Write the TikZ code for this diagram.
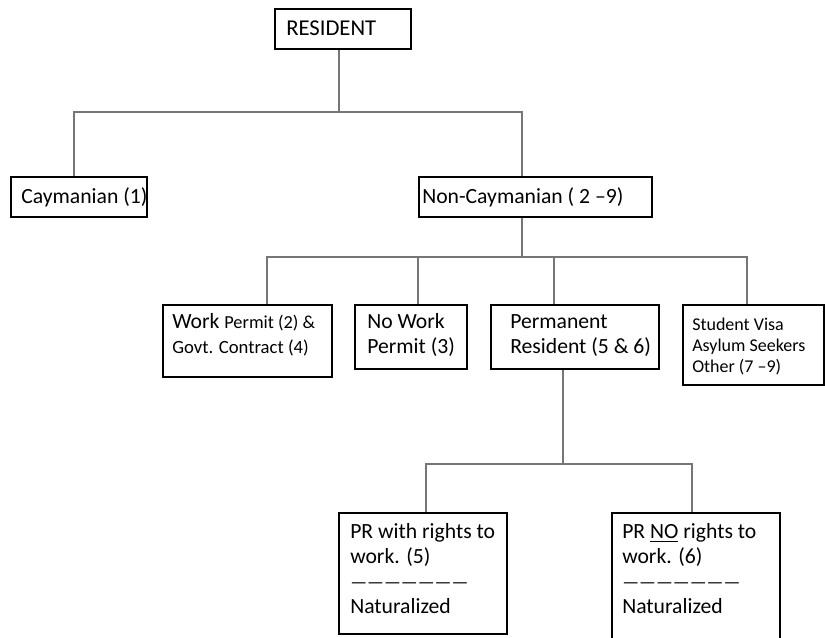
\documentclass[tikz,border=0pt]{standalone}
\usepackage{fontspec}
\setmainfont{Carlito}
\usepackage{xcolor}
\usetikzlibrary{calc}
\definecolor{lngray}{RGB}{118,118,118}
\tikzset{
  box/.style={rectangle, draw=black, line width=1pt, inner sep=0pt},
  conn/.style={draw=lngray, line width=1.7pt},
  txt/.style={anchor=west, inner sep=0pt, align=left, font=\fontsize{16.25}{18.75}\selectfont},
}
\newcommand{\dashrule}{{\fontsize{14}{18.75}\selectfont ———————}}

\begin{document}
\begin{tikzpicture}[x=0.75pt, y=-0.75pt]
    \useasboundingbox (0,0) rectangle (825,637);

    % Top level
    \node[box, minimum width=102pt, minimum height=30pt] (res) at (343,29) {};
    \node[txt, font=\fontsize{17}{18.75}\selectfont] (resT) at (286,28.5) {RESIDENT};

    % Caymanian / Non-Caymanian
    \node[box, minimum width=102pt, minimum height=30pt] (cay) at (79,197) {};
    \node[txt] (cayT) at (21,197) {Caymanian (1)};
    \node[box, minimum width=174.75pt, minimum height=30pt] (ncay) at (535.5,197) {};
    \node[txt] (ncayT) at (422,197) {Non-Caymanian ( 2 –9)};

    % Non-Caymanian groups
    \node[box, minimum width=126.75pt, minimum height=54pt] (wp) at (247.5,341) {};
    \node[txt] (wpT) at (172,334.5) {Work {\fontsize{13.75}{18.75}\selectfont Permit (2) \&}\\{\fontsize{14}{18.75}\selectfont Govt. Contract (4)}};
    \node[box, minimum width=84pt, minimum height=48pt] (nwp) at (411,337) {};
    \node[txt] (nwpT) at (367,335) {No Work\\Permit (3)};
    \node[box, minimum width=126pt, minimum height=48pt] (pr) at (575,337) {};
    \node[txt] (prT) at (510,335.5) {Permanent\\Resident (5 \& 6)};
    \node[box, minimum width=105.75pt, minimum height=60pt] (oth) at (753.5,345) {};
    \node[txt, font=\fontsize{13.5}{16}\selectfont] (othT) at (692,346.5) {Student Visa\\Asylum Seekers\\Other (7 –9)};

    % Permanent Resident split
    \node[box, minimum width=126pt, minimum height=90.75pt] (prw) at (423,573.5) {};
    \node[txt] (prwT) at (350,569) {PR with rights to\\work. (5)\\\dashrule\\Naturalized};
    \node[box, minimum width=126pt, minimum height=99pt] (prno) at (696,579) {};
    \node[txt] (prnoT) at (622,569) {PR \underline{NO} rights to\\work. (6)\\\dashrule\\Naturalized};

    % Connectors
    \coordinate (j1) at (339,112);
    \draw[conn] ($(res.south)+(-4,0)$) -- (j1);
    \draw[conn] ($(cay.north)+(-5,0)$) |- (j1) -| ($(ncay.north)+(-13.5,0)$);

    \coordinate (j2) at (522,257);
    \draw[conn] ($(ncay.south)+(-13.5,0)$) -- (j2);
    \draw[conn] ($(wp.north)+(19.5,0)$) |- (j2) -| ($(oth.north)+(-6.5,0)$);
    \draw[conn] ($(nwp.north)+(7,0)$) |- (j2);
    \draw[conn] ($(pr.north)+(-21,0)$) |- (j2);

    \coordinate (j3) at (563,464);
    \draw[conn] ($(pr.south)+(-12,0)$) -- (j3);
    \draw[conn] ($(prw.north)+(3,0)$) |- (j3) -| ($(prno.north)+(-4,0)$);
\end{tikzpicture}
\end{document}
